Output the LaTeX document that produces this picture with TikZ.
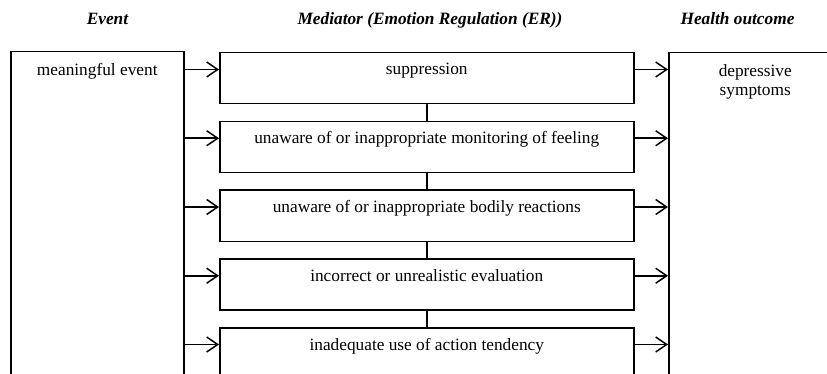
\documentclass[tikz,border=0pt]{standalone}
\usepackage{fontspec}
\setmainfont{Liberation Serif}
\usetikzlibrary{arrows.meta}

\begin{document}
\begin{tikzpicture}
	[x=1pt,y=-1pt,line cap=round,
	font=\fontsize{17.3}{19.5}\selectfont,
	%Styles
	title text/.style={anchor=base,font=\fontsize{17.3}{19.5}\selectfont\bfseries\itshape},
	side box/.style={draw,line width=1.5pt,anchor=north west,minimum width=173pt,minimum height=400pt},
	mediator box/.style={draw,line width=1.5pt,anchor=north west,minimum width=414pt,minimum height=51pt},
	box text/.style={anchor=base,inner sep=0pt,text height=14pt,text depth=3pt,yshift=-23pt},
	flow arrow/.style={line width=1.5pt,-{Straight Barb[length=11pt,width=15pt]}}
	]
	
	\useasboundingbox (0,0) rectangle (827,374);
	\clip (0,0) rectangle (827,374);
	
	%Column titles
	\node[title text] (tevent) at (107.5,25) {Event};
	\node[title text] (tmediator) at (430,25) {Mediator (Emotion Regulation (ER))};
	\node[title text] (toutcome) at (737.5,25) {Health outcome};
	
	%Event and outcome
	\node[side box,label={[box text,yshift=-2pt]north:meaningful event}] (event) at (10,50.7) {};
	\node[side box,label={[anchor=north,inner sep=0pt,align=center,yshift=-12pt]north:{depressive\\symptoms}}] (outcome) at (668,52) {};
	
	%Mediators
	\foreach \i/\txt in {1/suppression,
		2/unaware of or inappropriate monitoring of feeling,
		3/unaware of or inappropriate bodily reactions,
		4/incorrect or unrealistic evaluation,
		5/inadequate use of action tendency}
	{
		\node[mediator box,label={[box text,name=t\i]north:\txt}] (m\i) at (219,{52+68.75*(\i-1)}) {};
		\draw[flow arrow] (event.east |- t\i) -- (m\i.west |- t\i);
		\draw[flow arrow] (m\i.east |- t\i) -- (outcome.west |- t\i);
	}
	\foreach \i [evaluate=\i as \j using int(\i+1)] in {1,...,4}
		\draw[line width=1.5pt] (m\i) -- (m\j);
\end{tikzpicture}
\end{document}
